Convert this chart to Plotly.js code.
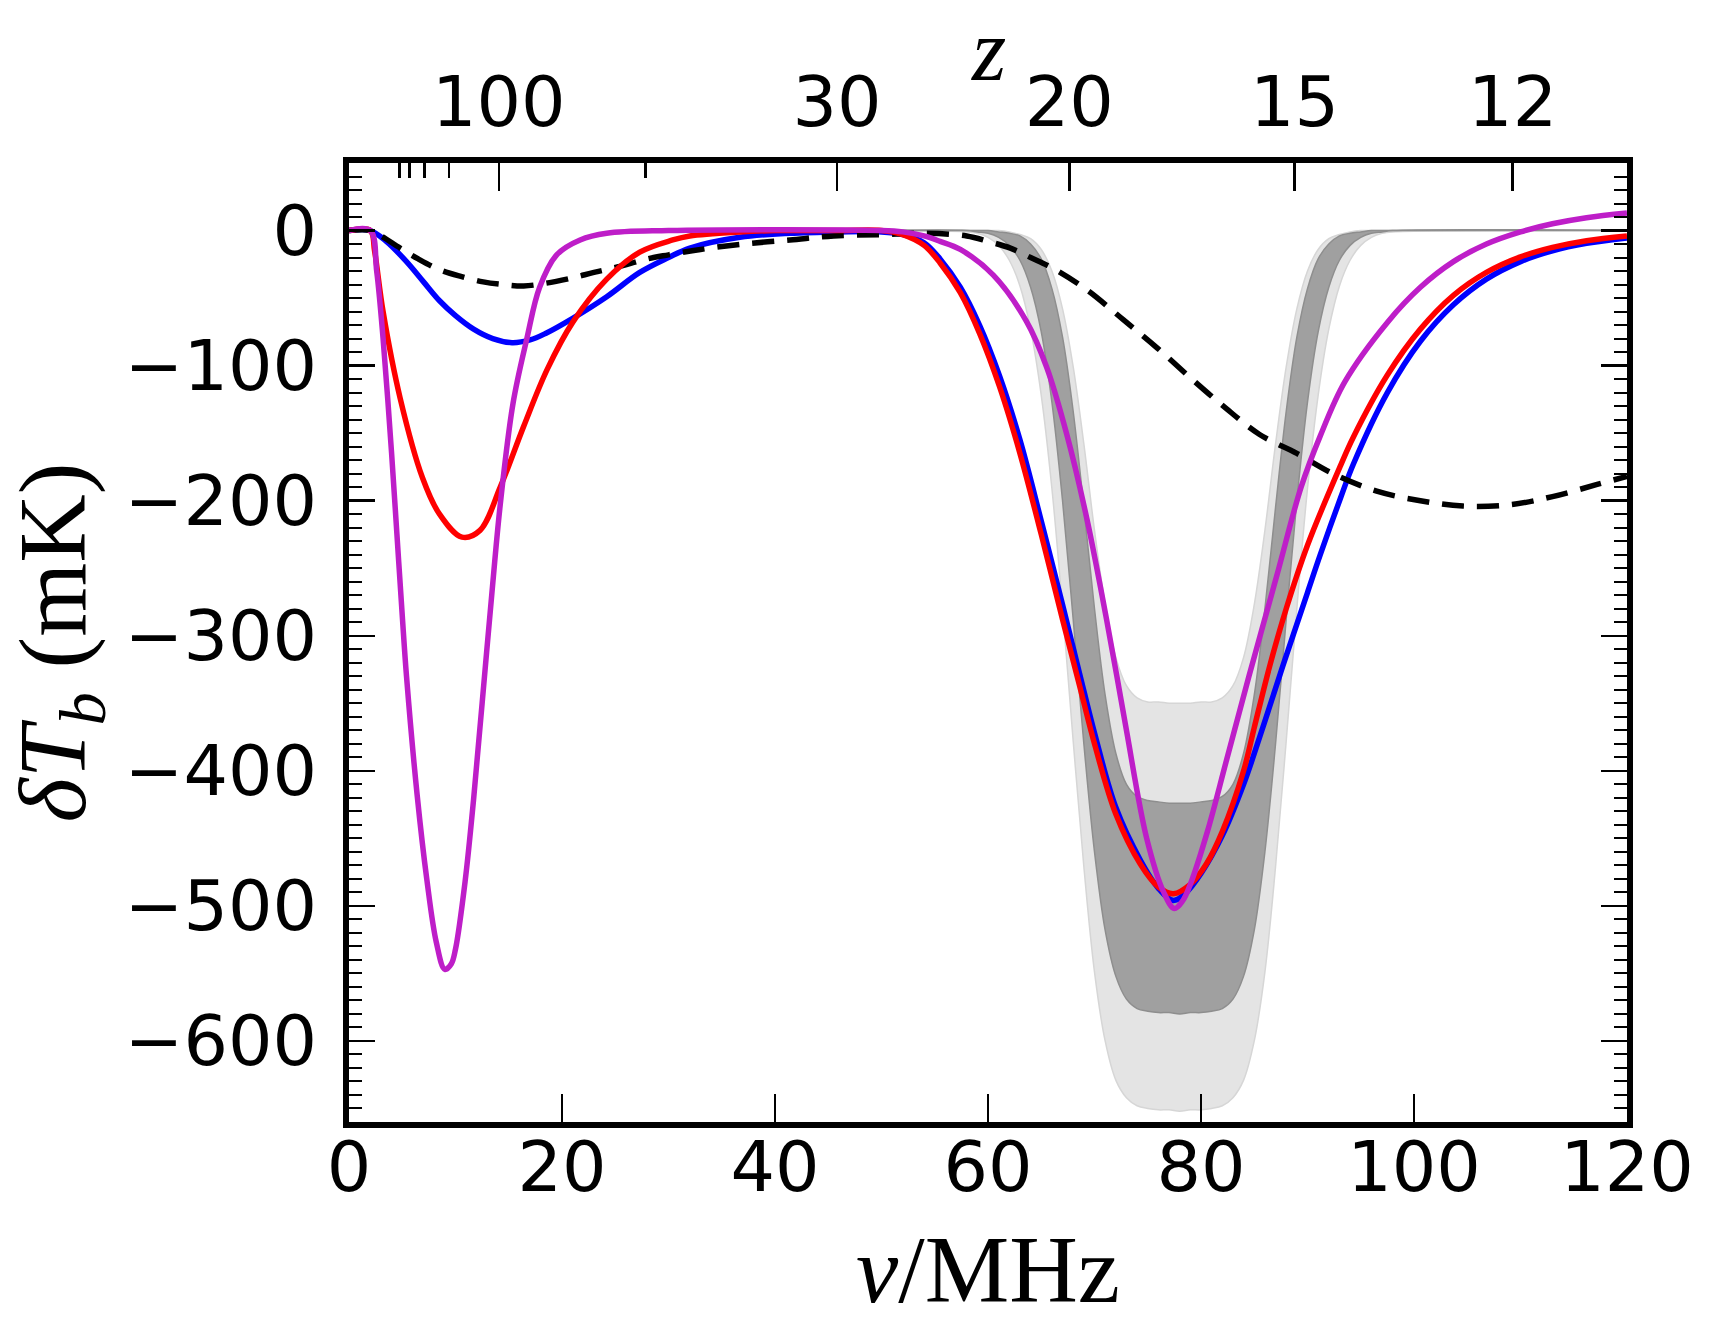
<!DOCTYPE html>
<html>
<head>
<meta charset="utf-8">
<script src="https://cdn.plot.ly/plotly-3.0.1.min.js"></script>
<style>html,body{margin:0;padding:0;background:#fff;}#chart{width:1722px;height:1344px;}</style>
</head>
<body>
<div id="chart"></div>
<script>
// ---- data ----
const bandNu = [50,58,59,60,61,62,63,64,65,66,67,68,69,70,71,72,73,74,75,76,77,78,79,80,81,82,83,84,85,86,87,88,89,90,91,92,93,94,95,96,97,98,120];
const lightUpper = [0,0,0,0,0,-1,-3,-6,-14,-30,-58,-101,-158,-222,-277,-316,-337,-346,-349,-349,-350,-350,-350,-349,-349,-346,-337,-316,-277,-222,-158,-101,-58,-30,-14,-6,-3,-1,0,0,0,0,0];
const lightLower = [0,-1,-2,-5,-11,-22,-41,-73,-122,-191,-280,-378,-471,-549,-600,-629,-642,-648,-650,-651,-651,-652,-651,-651,-650,-648,-642,-629,-600,-549,-471,-378,-280,-191,-122,-73,-41,-22,-11,-5,-2,-1,0];
const darkUpper = [0,0,0,0,-1,-2,-4,-10,-21,-43,-79,-134,-205,-280,-344,-387,-410,-419,-422,-423,-424,-424,-424,-423,-422,-419,-410,-387,-344,-280,-205,-134,-79,-43,-21,-10,-4,-2,-1,0,0,0,0];
const darkLower = [0,0,-1,-2,-5,-11,-22,-42,-75,-127,-200,-288,-380,-460,-518,-552,-569,-576,-578,-579,-579,-580,-579,-579,-578,-576,-569,-552,-518,-460,-380,-288,-200,-127,-75,-42,-22,-11,-5,-2,-1,0,0];

const blueNu = [0,2,3.5,5.4,7,8.5,10,11.7,13.5,15.3,17,18.5,21,24.2,27.3,30,32,36.7,41.4,46,50,52,54,55.5,57.4,59.2,61.1,63,65,67,68.6,70,72,74.3,76,77.4,78.5,80,82,84,85.8,87.7,90,91.2,93.1,94.3,97.5,100.6,103.7,106.8,110,113,116.2,120];
const blueT  = [0,0,-8,-23,-38,-52,-63,-73,-80,-83,-81,-76,-65,-49,-31,-20,-13,-5,-2,-1,-1,-3,-9,-21,-42,-70,-108,-155,-215,-277,-328,-372,-427,-466,-487,-496,-491,-476,-448,-410,-368,-322,-268,-240,-198,-173,-120,-82,-55,-36,-23,-15,-9.5,-5.5];

const redNu = [0,2,2.4,3.2,4.8,6.9,8.5,10.6,12.3,14.2,16.4,18.6,21,24.2,27.3,30.4,32,36.7,40,46,50,52,54,55.5,57.4,59.2,61.1,63,65,67,68.6,70,72,74.3,76,77.4,79,80.5,82,84,85,86.5,88,90,93.1,94.3,97.5,100.6,103.7,106.8,110,113,116.2,120];
const redT  = [0,0,-15,-60,-124,-183,-210,-227,-222,-190,-145,-103,-68,-36,-16,-7,-4,-1,0,0,0,-3,-11,-24,-46,-76,-116,-165,-225,-288,-337,-380,-432,-469,-486,-491,-484,-469,-445,-400,-368,-321,-280,-233,-174,-153,-107,-73,-48,-31,-19.5,-12.5,-7.5,-4];

const magNu = [0,2,2.6,3.2,4.0,4.5,5.0,5.4,6.4,7.3,8.2,9.0,9.6,10.0,10.9,11.7,12.5,13.4,14.2,15.4,16.7,17.9,19.5,21.7,24.2,30,50,52,54,55.5,57.4,60.5,63.6,65.5,67.4,69.3,70.8,72.1,73,74.9,76.5,77.5,78.3,79,80.6,82.4,84.5,87.1,89.4,91.2,93.5,97.5,100.6,103.7,106.8,110,113,116.2,120];
const magT  = [0,0,-30,-80,-165,-225,-285,-330,-418,-480,-527,-547,-543,-532,-482,-421,-350,-270,-203,-128,-80,-42,-18,-7,-2,0,0,-1,-4,-8,-14,-33,-67,-101,-151,-214,-274,-330,-370,-450,-490,-502,-496,-484,-445,-392,-330,-256,-190,-152,-112,-68,-42,-23,-10,-1,5,9.5,13];

const dashNu = [0,2,3,4.8,6.5,8.5,10.5,12.6,14.5,16.4,18.5,21,23,25.2,28,30,33,37,41.4,45.5,50,54,58,60,62.1,64,66.1,69.3,72.7,75.9,79,82.1,85.5,89,92.4,96.5,100.6,104.6,109,113,117.2,120];
const dashT  = [0,0,-4,-13,-21,-29,-34,-38,-40,-41,-39,-35,-31,-27,-21,-18,-14,-10,-7,-4,-3,-2,-4,-8,-13,-20,-28,-44,-66,-87,-109,-130,-151,-165,-180,-193,-200,-204,-203,-197,-188,-182];

const zMajor = [100,30,20,15,12];
const zMajorLabels = ['100','30','20','15','12'];
const zMinor = [300,250,200,150,50];
const nu21 = 1420.4; // MHz, 21-cm rest frequency for the redshift axis
const zToNu = z => nu21/(1+z);

const xTicks = [0,20,40,60,80,100,120];
const yTicks = [0,-100,-200,-300,-400,-500,-600];

// ---- traces ----
const sp = {shape:'spline', smoothing:1};
const L = o => Object.assign({}, sp, o);
const traces = [
  {x:bandNu, y:lightUpper, mode:'lines', line:L({color:'#d6d6d6', width:1.5}), hoverinfo:'skip', showlegend:false},
  {x:bandNu, y:lightLower, mode:'lines', fill:'tonexty', fillcolor:'#e4e4e4', line:L({color:'#d6d6d6', width:1.5}), hoverinfo:'skip', showlegend:false},
  {x:bandNu, y:darkUpper, mode:'lines', line:L({color:'#8e8e8e', width:1.5}), hoverinfo:'skip', showlegend:false},
  {x:bandNu, y:darkLower, mode:'lines', fill:'tonexty', fillcolor:'#a0a0a0', line:L({color:'#8e8e8e', width:1.5}), hoverinfo:'skip', showlegend:false},
  {x:blueNu, y:blueT, mode:'lines', line:L({color:'#0000ff', width:5.5}), showlegend:false},
  {x:dashNu, y:dashT, mode:'lines', line:L({color:'#000000', width:5.5, dash:'22px,13px'}), showlegend:false},
  {x:redNu, y:redT, mode:'lines', line:L({color:'#ff0000', width:5.5}), showlegend:false},
  {x:magNu, y:magT, mode:'lines', line:L({color:'rgb(190,30,200)', width:5.5}), showlegend:false},
  {x:[0,120], y:[0,0], xaxis:'x2', mode:'none', hoverinfo:'skip', showlegend:false}
];

const tickFont = {family:'DejaVu Sans', size:70, color:'#000'};
const titleFont = {family:'Liberation Serif', size:95, color:'#000'};

const layout = {
  width:1722, height:1344,
  margin:{l:349, r:95, t:163, b:222, pad:0},
  paper_bgcolor:'#fff', plot_bgcolor:'#fff',
  showlegend:false,
  xaxis:{
    range:[0,120], tickmode:'array', tickvals:xTicks, ticktext:xTicks.map(String),
    ticks:'inside', ticklen:28, tickwidth:2.5, tickcolor:'#000',
    showline:true, linewidth:6, linecolor:'#000', mirror:false,
    showgrid:false, zeroline:false, tickfont:tickFont,
    ticklabelposition:'outside', ticklabelstandoff:-21,
    title:{text:'<i>ν</i>/MHz', font:titleFont, standoff:30}
  },
  xaxis2:{
    overlaying:'x', side:'top', anchor:'y', range:[0,120],
    tickmode:'array', tickvals:zMajor.map(zToNu), ticktext:zMajorLabels,
    ticks:'inside', ticklen:28, tickwidth:2.5, tickcolor:'#000',
    minor:{tickmode:'array', tickvals:zMinor.map(zToNu), ticks:'inside', ticklen:15, tickwidth:2.5, tickcolor:'#000'},
    showline:true, linewidth:6, linecolor:'#000',
    showgrid:false, zeroline:false, tickfont:tickFont, ticklabelstandoff:3
  },
  yaxis:{
    range:[-660,50], tickmode:'array', tickvals:yTicks,
    ticks:'inside', ticklen:26, tickwidth:2.5, tickcolor:'#000',
    minor:{dtick:10, tick0:0, ticks:'inside', ticklen:13, tickwidth:2, tickcolor:'#000'},
    showline:true, linewidth:6, linecolor:'#000', mirror:'ticks',
    showgrid:false, zeroline:false, tickfont:tickFont, ticklabelstandoff:12,
    title:{text:'<i>δT</i><sub><i>b</i></sub> (mK)', font:titleFont, standoff:20}
  },
  annotations:[
    {text:'<i>z</i>', xref:'paper', yref:'paper', x:0.5, y:1.1688, xanchor:'center', yanchor:'top',
     showarrow:false, borderpad:0, font:{family:'Liberation Serif', size:88, color:'#000'}}
  ]
};

Plotly.newPlot('chart', traces, layout, {staticPlot:true, displayModeBar:false});
</script>
</body>
</html>
